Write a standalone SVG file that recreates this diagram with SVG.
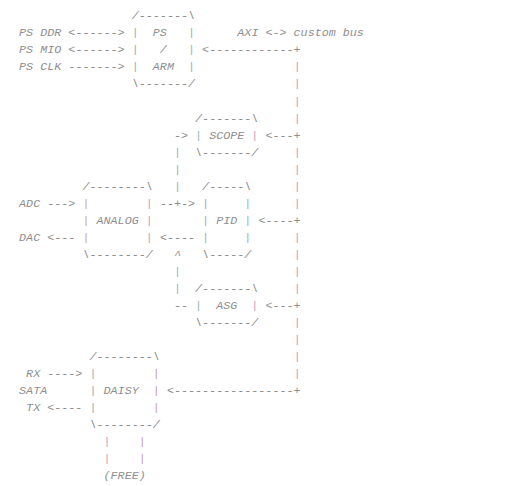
<svg xmlns="http://www.w3.org/2000/svg" width="516" height="486" viewBox="0 0 516 486">
<style>
text{font-family:"Liberation Mono","Courier New",monospace;font-style:italic;font-size:11.73px;fill:#8e8e8e;white-space:pre}
.p{fill:#c79fba}
.t{fill:#96b2bb}
</style>
<rect width="516" height="486" fill="#ffffff"/>
<g id="labels">
<text x="19.08" y="36.42">PS DDR</text>
<text x="19.08" y="53.44">PS MIO</text>
<text x="19.08" y="70.46">PS CLK</text>
<text x="237.32" y="36.42">AXI &lt;-&gt; custom bus</text>
<text x="19.08" y="206.62">ADC</text>
<text x="19.08" y="240.66">DAC</text>
<text x="26.12" y="376.82">RX</text>
<text x="19.08" y="393.84">SATA</text>
<text x="26.12" y="410.86">TX</text>
<text x="103.56" y="478.94">(FREE)</text>
</g>
<g id="node-ps">
<text x="131.72" y="19.4">/-------\</text>
<text x="131.72" y="36.42" xml:space="preserve"><tspan class="t">|</tspan>  PS   <tspan class="t">|</tspan></text>
<text x="131.72" y="53.44" xml:space="preserve"><tspan class="t">|</tspan>   /   <tspan class="t">|</tspan></text>
<text x="131.72" y="70.46" xml:space="preserve"><tspan class="t">|</tspan>  ARM  <tspan class="t">|</tspan></text>
<text x="131.72" y="87.48">\-------/</text>
</g>
<g id="node-scope">
<text x="195.08" y="121.52">/-------\</text>
<text x="195.08" y="138.54" xml:space="preserve"><tspan class="t">|</tspan> SCOPE <tspan class="p">|</tspan></text>
<text x="195.08" y="155.56">\-------/</text>
</g>
<g id="node-analog">
<text x="82.44" y="189.6">/--------\</text>
<text x="82.44" y="206.62" xml:space="preserve"><tspan class="p">|</tspan>        <tspan class="p">|</tspan></text>
<text x="82.44" y="223.64" xml:space="preserve"><tspan class="p">|</tspan> ANALOG <tspan class="p">|</tspan></text>
<text x="82.44" y="240.66" xml:space="preserve"><tspan class="p">|</tspan>        <tspan class="p">|</tspan></text>
<text x="82.44" y="257.68">\--------/</text>
</g>
<g id="node-pid">
<text x="202.12" y="189.6">/-----\</text>
<text x="202.12" y="206.62" xml:space="preserve"><tspan class="t">|</tspan>     <tspan class="t">|</tspan></text>
<text x="202.12" y="223.64" xml:space="preserve"><tspan class="t">|</tspan> PID <tspan class="t">|</tspan></text>
<text x="202.12" y="240.66" xml:space="preserve"><tspan class="t">|</tspan>     <tspan class="t">|</tspan></text>
<text x="202.12" y="257.68">\-----/</text>
</g>
<g id="node-asg">
<text x="195.08" y="291.72">/-------\</text>
<text x="195.08" y="308.74" xml:space="preserve"><tspan class="t">|</tspan>  ASG  <tspan class="p">|</tspan></text>
<text x="195.08" y="325.76">\-------/</text>
</g>
<g id="node-daisy">
<text x="89.48" y="359.8">/--------\</text>
<text x="89.48" y="376.82" xml:space="preserve"><tspan class="t">|</tspan>        <tspan class="p">|</tspan></text>
<text x="89.48" y="393.84" xml:space="preserve"><tspan class="t">|</tspan> DAISY  <tspan class="p">|</tspan></text>
<text x="89.48" y="410.86" xml:space="preserve"><tspan class="t">|</tspan>        <tspan class="p">|</tspan></text>
<text x="89.48" y="427.88">\--------/</text>
</g>
<g id="connectors">
<text x="68.36" y="36.42">&lt;------&gt;</text>
<text x="68.36" y="53.44">&lt;------&gt;</text>
<text x="68.36" y="70.46">-------&gt;</text>
<text x="202.12" y="53.44">&lt;------------+</text>
<text x="173.96" y="138.54">-&gt;</text>
<text x="265.48" y="138.54">&lt;---+</text>
<text x="47.24" y="206.62">---&gt;</text>
<text x="159.88" y="206.62">--+-&gt;</text>
<text x="258.44" y="223.64">&lt;----+</text>
<text x="47.24" y="240.66">&lt;---</text>
<text x="159.88" y="240.66">&lt;----</text>
<text x="173.96" y="257.68">^</text>
<text x="173.96" y="308.74">--</text>
<text x="265.48" y="308.74">&lt;---+</text>
<text x="47.24" y="376.82">----&gt;</text>
<text x="166.92" y="393.84">&lt;-----------------+</text>
<text x="47.24" y="410.86">&lt;----</text>
<g class="t">
<text class="t" x="173.96" y="155.56">|</text>
<text class="t" x="173.96" y="172.58">|</text>
<text class="t" x="173.96" y="189.6">|</text>
<text class="t" x="173.96" y="274.7">|</text>
<text class="t" x="173.96" y="291.72">|</text>
</g>
<g>
<text class="p" x="293.64" y="70.46">|</text>
<text class="p" x="293.64" y="87.48">|</text>
<text class="p" x="293.64" y="104.5">|</text>
<text class="p" x="293.64" y="121.52">|</text>
<text class="p" x="293.64" y="155.56">|</text>
<text class="p" x="293.64" y="172.58">|</text>
<text class="p" x="293.64" y="189.6">|</text>
<text class="p" x="293.64" y="206.62">|</text>
<text class="p" x="293.64" y="240.66">|</text>
<text class="p" x="293.64" y="257.68">|</text>
<text class="p" x="293.64" y="274.7">|</text>
<text class="p" x="293.64" y="291.72">|</text>
<text class="p" x="293.64" y="325.76">|</text>
<text class="p" x="293.64" y="342.78">|</text>
<text class="p" x="293.64" y="359.8">|</text>
<text class="p" x="293.64" y="376.82">|</text>
</g>
<text x="103.56" y="444.9" xml:space="preserve"><tspan class="p">|</tspan>    <tspan class="p">|</tspan></text>
<text x="103.56" y="461.92" xml:space="preserve"><tspan class="p">|</tspan>    <tspan class="p">|</tspan></text>
</g>
</svg>
